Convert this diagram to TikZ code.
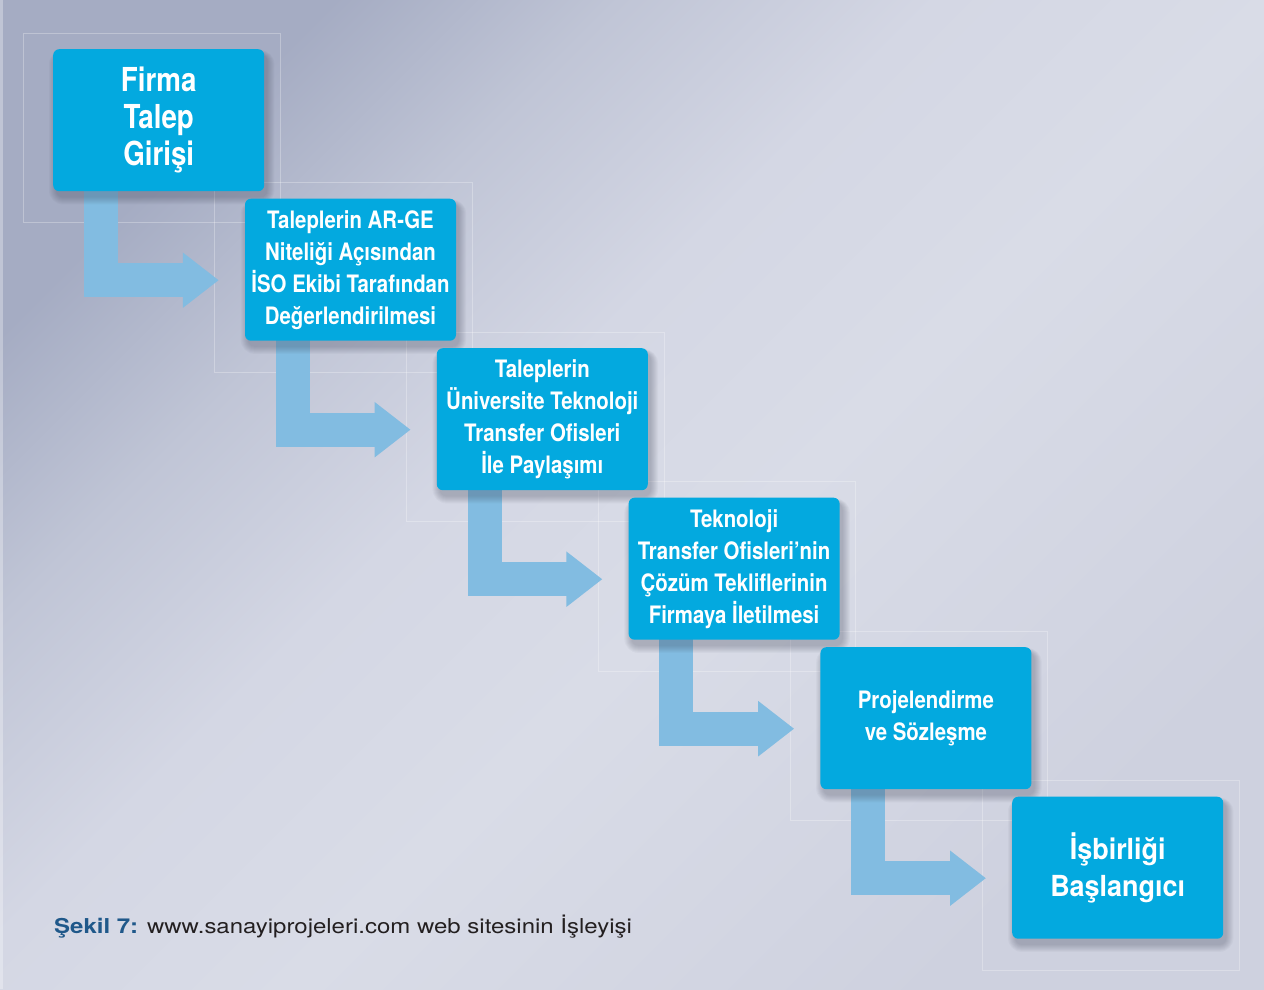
\documentclass[tikz,border=0pt]{standalone}
\usepackage{fontspec}
\usetikzlibrary{arrows.meta,calc}
\newfontfamily\boxfont{TeX Gyre Heros}[FakeStretch=0.85]
\newfontfamily\bigboxfont{TeX Gyre Heros}[FakeStretch=0.84]
\newfontfamily\lastboxfont{TeX Gyre Heros}[FakeStretch=0.93]
\newfontfamily\capfont{TeX Gyre Heros}[FakeStretch=1.17]
\definecolor{bgA}{RGB}{206,209,223}
\definecolor{bgB}{RGB}{217,220,231}
\definecolor{bgC}{RGB}{212,215,228}
\definecolor{bgD}{RGB}{192,197,214}
\definecolor{bgE}{RGB}{165,172,195}
\pgfdeclareverticalshading{bgshade}{100bp}{color(0bp)=(bgA); color(25bp)=(bgA); color(45bp)=(bgB); color(56bp)=(bgC); color(66bp)=(bgD); color(75bp)=(bgE); color(100bp)=(bgE)}
\definecolor{boxblue}{RGB}{3,169,223}
\definecolor{arrowblue}{RGB}{130,188,225}
\definecolor{capblue}{RGB}{31,88,138}
\definecolor{capgray}{RGB}{35,31,32}
\definecolor{shadowcol}{RGB}{60,65,85}
\pgfdeclarelayer{bg}
\pgfdeclarelayer{mid}
\pgfsetlayers{bg,mid,main}
\tikzset{
  stepbox/.style={draw=none, fill=boxblue, rounded corners=6pt, text=white,
    minimum width=211pt, minimum height=142pt, anchor=north west, align=center,
    inner sep=0pt},
  smalltext/.style={font=\boxfont\bfseries\fontsize{24}{32}\selectfont},
  bigtext/.style={font=\bigboxfont\bfseries\fontsize{33}{37}\selectfont},
  lasttext/.style={font=\lastboxfont\bfseries\fontsize{29}{37}\selectfont},
  frame/.style={draw=white, draw opacity=0.28, line width=0.8pt},
  softshadow/.style={fill=shadowcol, fill opacity=0.04},
  flow/.style={draw=arrowblue, line width=34pt, line join=miter,
    -{Triangle[width=53pt,length=36pt]}},
}
\begin{document}
\begin{tikzpicture}[x=1pt,y=-1pt]
\useasboundingbox (0,0) rectangle (1264,989);
\begin{pgfonlayer}{bg}
  \shade[shading=bgshade, shading angle=45] (0,0) rectangle (1264,989);
  \fill[white, fill opacity=0.3] (0,0) rectangle (3,989);
\end{pgfonlayer}

\node[stepbox,bigtext] (b1) at (53,49) {Firma\\Talep\\Girişi};
\node[stepbox,smalltext] (b2) at (244.8,198.5) {Taleplerin AR-GE\\Niteliği Açısından\\İSO Ekibi Tarafından\\Değerlendirilmesi};
\node[stepbox,smalltext] (b3) at (436.6,348) {Taleplerin\\Üniversite Teknoloji\\Transfer Ofisleri\\İle Paylaşımı};
\node[stepbox,smalltext] (b4) at (628.4,497.5) {Teknoloji\\Transfer Ofisleri’nin\\Çözüm Tekliflerinin\\Firmaya İletilmesi};
\node[stepbox,smalltext] (b5) at (820.2,647) {Projelendirme\\ve Sözleşme};
\node[stepbox,lasttext] (b6) at (1012,796.5) {İşbirliği\\Başlangıcı};

\begin{pgfonlayer}{mid}
  \foreach \b in {b1,b2,b3,b4,b5,b6}{
    \draw[frame] ([shift={(-30pt,16pt)}]\b.north west) rectangle ([shift={(16pt,-31pt)}]\b.south east);
  }
  \foreach \a/\b in {b1/b2,b2/b3,b3/b4,b4/b5,b5/b6}{
    \draw[flow] ([xshift=48pt,yshift=5pt]\a.south west) |- ([xshift=-26pt,yshift=-10.5pt]\b.west);
  }
  \foreach \b in {b1,b2,b3,b4,b5,b6}{
    \foreach \k in {1,...,8}{
      \fill[softshadow, rounded corners={6pt+\k*1pt}]
        ([shift={({4pt-\k*1pt},{\k*0.6pt-6pt})}]\b.north west) rectangle
        ([shift={({2pt+\k*1pt},{-5pt-\k*1pt})}]\b.south east);
    }
  }
\end{pgfonlayer}

\node[anchor=base west, inner sep=0pt, font=\capfont\fontsize{20.5}{24}\selectfont] (cap) at (54,933)
  {\textcolor{capblue}{\bfseries Şekil 7:} \textcolor{capgray}{www.sanayiprojeleri.com web sitesinin İşleyişi}};
\end{tikzpicture}
\end{document}
